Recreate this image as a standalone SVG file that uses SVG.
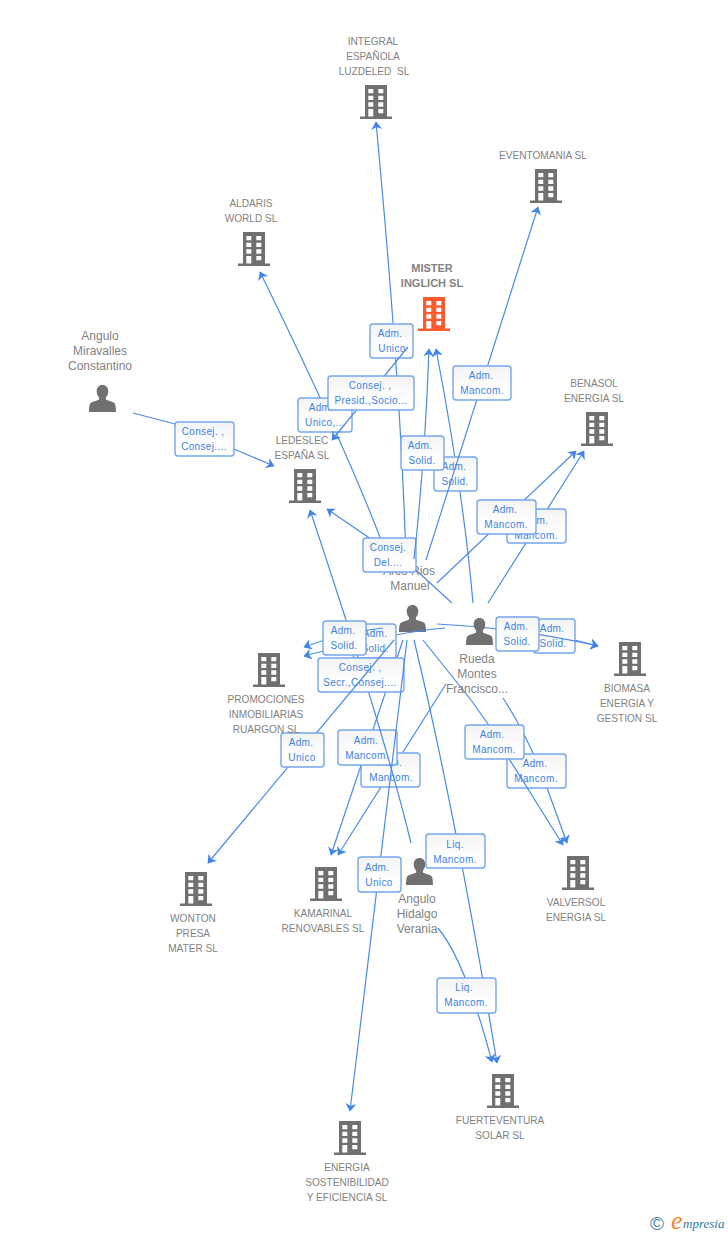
<svg xmlns="http://www.w3.org/2000/svg" width="728" height="1235" viewBox="0 0 728 1235">
<style>
.lbl{font-family:"Liberation Sans",Arial,sans-serif;font-size:10.1px;fill:#828282;text-anchor:middle;white-space:pre}
.per{font-size:12px}
.main{font-size:11px;font-weight:bold}
.c{fill:none;stroke:#4a8ae6;stroke-width:1.2;marker-end:url(#ah)}
.n{fill:none;stroke:#4a8ae6;stroke-width:1.2}
.b{fill:url(#bg);stroke:#74a6ec;stroke-width:1.4}
.bt{font-family:"Liberation Sans",Arial,sans-serif;font-size:10px;letter-spacing:.35px;fill:#3c82e4;text-anchor:middle}
</style>
<defs>
<linearGradient id="bg" x1="0" y1="0" x2="0" y2="1"><stop offset="0" stop-color="#f3f3f3"/><stop offset=".6" stop-color="#fdfdfd"/><stop offset="1" stop-color="#fff"/></linearGradient>
<marker id="ah" markerUnits="userSpaceOnUse" markerWidth="11" markerHeight="12" refX="7.5" refY="5.5" orient="auto"><path d="M8,5.5 L0,0 L2.4,5.5 L0,11 Z" fill="#3f84e6"/></marker>
<symbol id="bld" viewBox="0 0 32 34" overflow="visible"><path fill-rule="evenodd" d="M5,0H27V31.5H32V34H0V31.5H5ZM8.3,4V8.3H13.3V4ZM18.3,4V8.3H23.3V4ZM8.3,10.7V15H13.3V10.7ZM18.3,10.7V15H23.3V10.7ZM8.3,17.3V21.7H13.3V17.3ZM18.3,17.3V21.7H23.3V17.3ZM8.3,24V31.5H13.3V24ZM18.3,24V28.3H23.3V24Z"/></symbol>
<symbol id="psn" viewBox="0 0 27 27" overflow="visible"><path d="M13.5,0C17,0 19.3,2.6 19.3,6.2C19.3,9 18.2,11 16.9,12.4V14.6C19.5,16 23.5,16.4 25.6,18.3C26.7,19.5 27,24 27,27H0C0,24 .3,19.5 1.4,18.3C3.5,16.4 7.5,16 10.1,14.6V12.4C8.8,11 7.7,9 7.7,6.2C7.7,2.6 10,0 13.5,0Z"/></symbol>
</defs>
<g id="p-arc" fill="#707070"><use href="#psn" x="399" y="605" width="27" height="27"/><text class="lbl per" x="409" y="575">Arco Rios</text><text class="lbl per" x="410" y="590">Manuel</text></g>
<g id="connectors">
<path class="c" d="M406,565 Q402,400 376,122"/>
<rect class="b" x="370" y="324" width="43" height="34" rx="3"/><text class="bt" x="390" y="337">Adm.</text><text class="bt" x="392" y="352">Unico</text>
<path class="c" d="M381,540 Q345,445 260,272"/>
<rect class="b" x="298" y="398" width="54" height="34" rx="3"/><text class="bt" x="321" y="411">Adm.</text><text class="bt" x="325" y="426">Unico,...</text>
<path class="c" d="M408,347 L332,440"/>
<rect class="b" x="328" y="376" width="86" height="34" rx="3"/><text class="bt" x="370" y="389">Consej. ,</text><text class="bt" x="371" y="404">Presid.,Socio...</text>
<path class="c" d="M452,603 L417,571 L368,537 L327,509"/>
<rect class="b" x="363" y="538" width="53" height="34" rx="3"/><text class="bt" x="388" y="551">Consej.</text><text class="bt" x="388" y="566">Del....</text>
<path class="c" d="M473,603 Q463,490 436,349"/>
<rect class="b" x="434" y="457" width="43" height="34" rx="3"/><text class="bt" x="454" y="470">Adm.</text><text class="bt" x="455" y="485">Solid.</text>
<path class="c" d="M426,560 L538,207"/>
<rect class="b" x="453" y="366" width="58" height="34" rx="3"/><text class="bt" x="481" y="379">Adm.</text><text class="bt" x="482" y="394">Mancom.</text>
<path class="c" d="M414,559 Q425,460 429,349"/>
<rect class="b" x="401" y="436" width="43" height="34" rx="3"/><text class="bt" x="420" y="449">Adm.</text><text class="bt" x="422" y="464">Solid.</text>
<path class="c" d="M488,603 L584,451"/>
<rect class="b" x="507" y="509" width="59" height="34" rx="3"/><text class="bt" x="536" y="524">Adm.</text><text class="bt" x="536" y="539">Mancom.</text>
<path class="c" d="M437,583 L576,451"/>
<rect class="b" x="477" y="500" width="59" height="34" rx="3"/><text class="bt" x="505" y="513">Adm.</text><text class="bt" x="506" y="528">Mancom.</text>
<path class="c" d="M445,628 Q395,632 304,656"/>
<rect class="b" x="353" y="624" width="43" height="34" rx="3"/><text class="bt" x="375" y="637">Adm.</text><text class="bt" x="375" y="652">Solid.</text>
<path class="c" d="M383,628 Q345,632 304,647"/>
<path class="c" d="M446,684 L338,855"/>
<rect class="b" x="361" y="753" width="59" height="34" rx="3"/><text class="bt" x="390" y="766">Adm.</text><text class="bt" x="391" y="781">Mancom.</text>
<path class="c" d="M403,640 L331,855"/>
<rect class="b" x="338" y="730" width="59" height="35" rx="3"/><text class="bt" x="366" y="744">Adm.</text><text class="bt" x="367" y="759">Mancom.</text>
<path class="c" d="M411,843 Q385,735 310,510"/>
<rect class="b" x="323" y="621" width="43" height="34" rx="3"/><text class="bt" x="343" y="634">Adm.</text><text class="bt" x="344" y="649">Solid.</text>
<rect class="b" x="318" y="658" width="86" height="34" rx="3"/><text class="bt" x="360" y="671">Consej. ,</text><text class="bt" x="360" y="686">Secr.,Consej....</text>
<path class="c" d="M394,640 L208,863"/>
<rect class="b" x="281" y="733" width="43" height="34" rx="3"/><text class="bt" x="301" y="746">Adm.</text><text class="bt" x="302" y="761">Unico</text>
<path class="c" d="M407,640 L350,1111"/>
<rect class="b" x="358" y="857" width="43" height="35" rx="3"/><text class="bt" x="377" y="871">Adm.</text><text class="bt" x="379" y="886">Unico</text>
<path class="c" d="M414,640 Q455,810 497,1063"/>
<rect class="b" x="426" y="834" width="59" height="34" rx="3"/><text class="bt" x="455" y="848">Liq.</text><text class="bt" x="455" y="863">Mancom.</text>
<path class="c" d="M438,928 Q465,960 492,1062"/>
<rect class="b" x="437" y="978" width="59" height="35" rx="3"/><text class="bt" x="464" y="991">Liq.</text><text class="bt" x="466" y="1006">Mancom.</text>
<path class="c" d="M503,698 Q530,740 547,788 L567,843"/>
<rect class="b" x="507" y="754" width="59" height="34" rx="3"/><text class="bt" x="535" y="767">Adm.</text><text class="bt" x="536" y="782">Mancom.</text>
<path class="c" d="M423,640 L471,700 L488,724 L508,757 L563,845"/>
<rect class="b" x="465" y="725" width="59" height="34" rx="3"/><text class="bt" x="492" y="738">Adm.</text><text class="bt" x="494" y="753">Mancom.</text>
<path class="c" d="M497,629 Q540,630 598,646"/>
<rect class="b" x="533" y="619" width="42" height="34" rx="3"/><text class="bt" x="552" y="632">Adm.</text><text class="bt" x="553" y="647">Solid.</text>
<path class="c" d="M437,624 Q520,628 598,646"/>
<rect class="b" x="496" y="617" width="43" height="34" rx="3"/><text class="bt" x="516" y="630">Adm.</text><text class="bt" x="517" y="645">Solid.</text>
<path class="n" d="M133,413 L175,424"/>
<path class="c" d="M234,449 L274,466"/>
<rect class="b" x="175" y="422" width="59" height="34" rx="3"/><text class="bt" x="203" y="435">Consej. ,</text><text class="bt" x="204" y="450">Consej....</text>
</g>
<g id="n-integral" fill="#707070"><use href="#bld" x="360" y="85" width="32" height="34"/><text class="lbl" x="373" y="45">INTEGRAL</text><text class="lbl" x="373" y="60">ESPAÑOLA</text><text class="lbl" x="374" y="75">LUZDELED  SL</text></g>
<g id="n-eventomania" fill="#707070"><use href="#bld" x="530" y="169" width="32" height="34"/><text class="lbl" x="543" y="159">EVENTOMANIA SL</text></g>
<g id="n-aldaris" fill="#707070"><use href="#bld" x="238" y="232" width="32" height="34"/><text class="lbl" x="251" y="207">ALDARIS</text><text class="lbl" x="251" y="222">WORLD SL</text></g>
<g id="n-mister" fill="#ff5a2d"><use href="#bld" x="418" y="297" width="32" height="34"/><text class="lbl main" x="432" y="272">MISTER</text><text class="lbl main" x="432" y="287">INGLICH SL</text></g>
<g id="n-benasol" fill="#707070"><use href="#bld" x="581" y="412" width="32" height="34"/><text class="lbl" x="594" y="387">BENASOL</text><text class="lbl" x="594" y="402">ENERGIA SL</text></g>
<g id="n-ledeslec" fill="#707070"><use href="#bld" x="289" y="469" width="32" height="34"/><text class="lbl" x="302" y="444">LEDESLEC</text><text class="lbl" x="302" y="459">ESPAÑA SL</text></g>
<g id="n-promociones" fill="#707070"><use href="#bld" x="253" y="653" width="32" height="34"/><text class="lbl" x="266" y="703">PROMOCIONES</text><text class="lbl" x="266" y="718">INMOBILIARIAS</text><text class="lbl" x="266" y="733">RUARGON SL</text></g>
<g id="n-biomasa" fill="#707070"><use href="#bld" x="614" y="642" width="32" height="34"/><text class="lbl" x="627" y="692">BIOMASA</text><text class="lbl" x="627" y="707">ENERGIA Y</text><text class="lbl" x="627" y="722">GESTION SL</text></g>
<g id="n-wonton" fill="#707070"><use href="#bld" x="180" y="872" width="32" height="34"/><text class="lbl" x="193" y="922">WONTON</text><text class="lbl" x="193" y="937">PRESA</text><text class="lbl" x="193" y="952">MATER SL</text></g>
<g id="n-kamarinal" fill="#707070"><use href="#bld" x="310" y="867" width="32" height="34"/><text class="lbl" x="323" y="917">KAMARINAL</text><text class="lbl" x="323" y="932">RENOVABLES SL</text></g>
<g id="n-valversol" fill="#707070"><use href="#bld" x="562" y="856" width="32" height="34"/><text class="lbl" x="576" y="906">VALVERSOL</text><text class="lbl" x="576" y="921">ENERGIA SL</text></g>
<g id="n-fuerteventura" fill="#707070"><use href="#bld" x="487" y="1074" width="32" height="34"/><text class="lbl" x="500" y="1124">FUERTEVENTURA</text><text class="lbl" x="500" y="1139">SOLAR SL</text></g>
<g id="n-energia" fill="#707070"><use href="#bld" x="334" y="1121" width="32" height="34"/><text class="lbl" x="347" y="1171">ENERGIA</text><text class="lbl" x="347" y="1186">SOSTENIBILIDAD</text><text class="lbl" x="347" y="1201">Y EFICIENCIA SL</text></g>
<g id="p-miravalles" fill="#707070"><use href="#psn" x="89" y="385" width="27" height="27"/><text class="lbl per" x="100" y="340">Angulo</text><text class="lbl per" x="100" y="355">Miravalles</text><text class="lbl per" x="100" y="370">Constantino</text></g>
<g id="p-rueda" fill="#707070"><use href="#psn" x="466" y="618" width="27" height="27"/><text class="lbl per" x="477" y="663">Rueda</text><text class="lbl per" x="477" y="678">Montes</text><text class="lbl per" x="477" y="693">Francisco...</text></g>
<g id="p-hidalgo" fill="#707070"><use href="#psn" x="406" y="858" width="27" height="27"/><text class="lbl per" x="417" y="903">Angulo</text><text class="lbl per" x="417" y="918">Hidalgo</text><text class="lbl per" x="417" y="933">Verania</text></g>
<g id="logo"><text x="650" y="1230" font-family="'Liberation Sans',sans-serif" font-size="19" fill="#4a86a4">©</text><text x="671" y="1229" font-family="'Liberation Serif',serif" font-style="italic" font-size="26" fill="#f5841f">e</text><text x="683" y="1228" font-family="'Liberation Serif',serif" font-style="italic" font-size="13" fill="#2c7a9c">mpresia</text></g>
</svg>
